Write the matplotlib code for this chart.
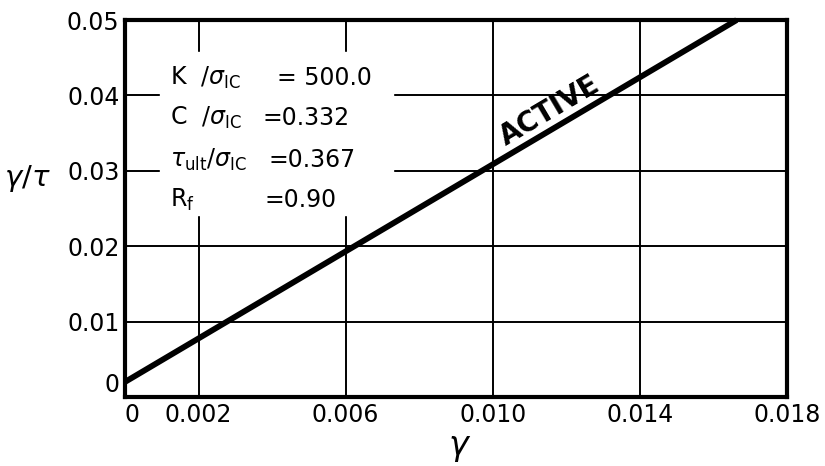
import numpy as np
import matplotlib
matplotlib.use('Agg')
from matplotlib import pyplot as plt

# straight-line fit of gamma/tau against gamma (hyperbolic model)
gamma = [0.0, 0.01663]
gamma_over_tau = [0.002, 0.050]

xticks = [0, 0.002, 0.006, 0.010, 0.014, 0.018]
xtick_labels = ['0', '0.002', '0.006', '0.010', '0.014', '0.018']
yticks = [0, 0.01, 0.02, 0.03, 0.04, 0.05]
ytick_labels = ['0', '0.01', '0.02', '0.03', '0.04', '0.05']

param_names = [r'K  $/\sigma_{\rm IC}$', r'C  $/\sigma_{\rm IC}$',
               r'$\tau_{\rm ult}/\sigma_{\rm IC}$', r'R$_{\rm f}$']
param_values = ['= 500.0', '=0.332', '=0.367', '=0.90']

plt.rcParams['font.family'] = ['DejaVu Sans']
plt.rcParams['mathtext.fontset'] = 'dejavusans'

fig = plt.figure(figsize=(8.25, 4.66), dpi=100)
ax = fig.add_axes([0.1515, 0.148, 0.8025, 0.809])

ax.set_xlim(0, 0.018)
ax.set_ylim(0, 0.05)

# grid drawn by hand so the end lines are not doubled on the frame
for gx in xticks[1:-1]:
    ax.axvline(gx, color='black', lw=1.4, zorder=1)
for gy in yticks[1:-1]:
    ax.axhline(gy, color='black', lw=1.4, zorder=1)

ax.plot(gamma, gamma_over_tau, color='black', lw=4.2, solid_capstyle='butt',
        zorder=3, clip_on=False)

for s in ax.spines.values():
    s.set_linewidth(3)
ax.tick_params(length=0, labelsize=17, pad=4)
ax.set_xticks(xticks)
ax.set_xticklabels(xtick_labels)
ax.set_yticks(yticks)
ax.set_yticklabels(ytick_labels)

# the zero labels sit offset at the corner
xl = ax.get_xticklabels()
xl[0].set_horizontalalignment('left')
yl = ax.get_yticklabels()
yl[0].set_verticalalignment('bottom')

ax.set_xlabel(r'$\gamma$', fontsize=24, labelpad=2)
ax.xaxis.set_label_coords(0.505, -0.09)
ax.set_ylabel(r'$\gamma/\tau$', fontsize=21, rotation=0, labelpad=0,
              va='center')
ax.yaxis.set_label_coords(-0.148, 0.58)

# white panel behind the parameter list
ax.fill_between([0.00095, 0.0073], 0.0241, 0.0457, color='white', zorder=2)
ys = [0.0423, 0.0370, 0.0314, 0.0261]
xs_val = [0.00413, 0.00375, 0.0039, 0.0038]
for name, val, yy, xv in zip(param_names, param_values, ys, xs_val):
    ax.text(0.00122, yy, name, fontsize=17, va='center', ha='left', zorder=4)
    ax.text(xv, yy, val, fontsize=17, va='center', ha='left', zorder=4)

ax.text(0.01155, 0.0380, 'ACTIVE', fontsize=20, fontweight='bold',
        rotation=30.6, ha='center', va='center', zorder=4)

plt.savefig('out.png', dpi=100)
